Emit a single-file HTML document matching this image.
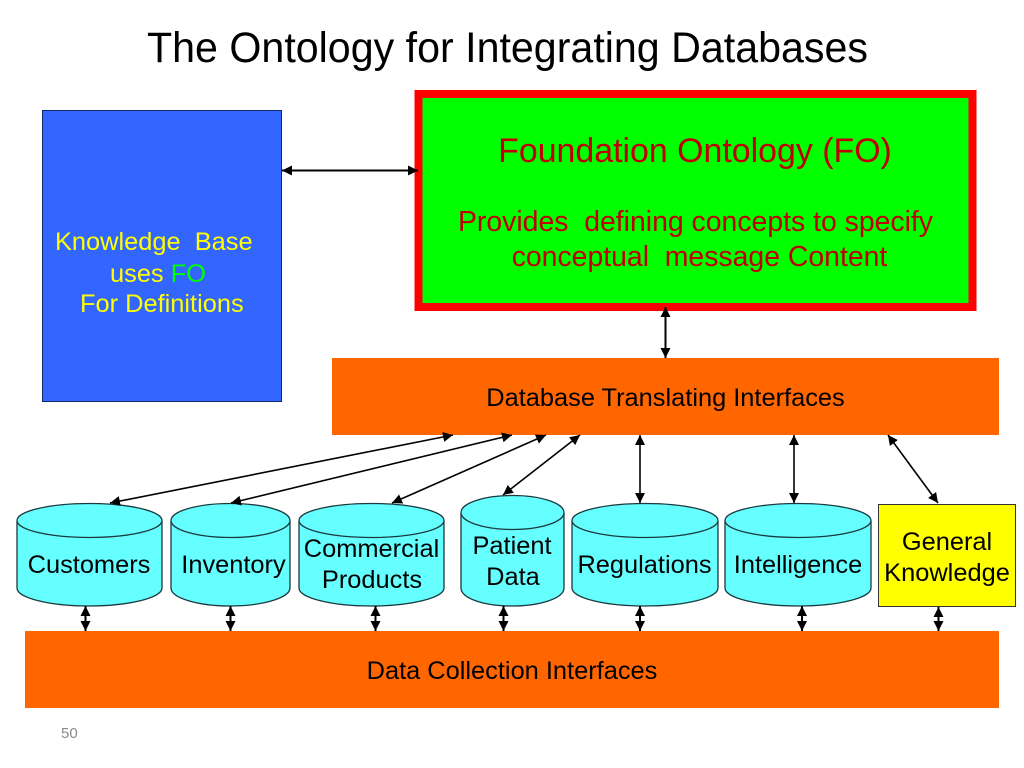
<!DOCTYPE html>
<html><head><meta charset="utf-8"><style>html,body{margin:0;padding:0;background:#fff}svg{display:block}text{font-family:"Liberation Sans",sans-serif;white-space:pre}</style></head><body>
<svg width="1024" height="768" viewBox="0 0 1024 768" xmlns="http://www.w3.org/2000/svg">
<defs>
<marker id="a" viewBox="0 0 10 10" refX="10" refY="5" markerWidth="10" markerHeight="10" markerUnits="userSpaceOnUse" orient="auto-start-reverse"><path d="M0 0L10 5L0 10z" fill="#000"/></marker>
</defs>
<rect width="1024" height="768" fill="#fff"/>
<text x="147" y="62" font-size="43" textLength="721" lengthAdjust="spacingAndGlyphs" fill="#000">The Ontology for Integrating Databases</text>

<rect x="42.500" y="110.500" width="239" height="291" fill="#3366ff" stroke="#0f2a66" stroke-width="1"/>
<text font-size="25.400" fill="#ffff00"><tspan x="55" y="250">Knowledge  Base</tspan><tspan x="110" y="282">uses <tspan fill="#00ff00">FO</tspan></tspan><tspan x="80" y="312">For Definitions</tspan></text>

<rect x="418.500" y="94" width="554" height="213" fill="#00ff00" stroke="#ff0000" stroke-width="8"/>
<text x="695" y="162" font-size="33.900" fill="#c00000" text-anchor="middle">Foundation Ontology (FO)</text>
<text x="695.500" y="231" font-size="28.400" fill="#c00000" text-anchor="middle">Provides  defining concepts to specify</text>
<text x="699.500" y="266" font-size="28.400" fill="#c00000" text-anchor="middle">conceptual  message Content</text>

<rect x="332" y="358" width="667" height="77" fill="#ff6600"/>
<text x="665.500" y="406" font-size="25.400" fill="#000" text-anchor="middle">Database Translating Interfaces</text>
<rect x="25" y="631" width="974" height="77" fill="#ff6600"/>
<text x="512" y="679" font-size="25.400" fill="#000" text-anchor="middle">Data Collection Interfaces</text>

<g fill="#66ffff" stroke="#1a3a40" stroke-width="1.300">
<path d="M17 521V588C17 598 50 606 89 606S162 598 162 588V521"/><ellipse cx="89.500" cy="520.500" rx="72.500" ry="17"/>
<path d="M171 521V588C171 598 198 606 230 606S290 598 290 588V521"/><ellipse cx="230.500" cy="520.500" rx="59.500" ry="17"/>
<path d="M299 521V588C299 598 332 606 371 606S444 598 444 588V521"/><ellipse cx="371.500" cy="520.500" rx="72.500" ry="17"/>
<path d="M461 513V588C461 598 483 606 512 606S564 598 564 588V513"/><ellipse cx="512.500" cy="512.500" rx="51.500" ry="17"/>
<path d="M572 521V588C572 598 605 606 645 606S718 598 718 588V521"/><ellipse cx="645" cy="520.500" rx="73" ry="17"/>
<path d="M725 521V588C725 598 758 606 798 606S871 598 871 588V521"/><ellipse cx="798" cy="520.500" rx="73" ry="17"/>
</g>
<rect x="878.500" y="504.500" width="137" height="102" fill="#ffff00" stroke="#333" stroke-width="1"/>
<g font-size="25.400" fill="#000" text-anchor="middle">
<text x="89" y="573">Customers</text>
<text x="233.500" y="573">Inventory</text>
<text x="371.500" y="557">Commercial</text><text x="372" y="588">Products</text>
<text x="512" y="554">Patient</text><text x="513" y="585">Data</text>
<text x="644.500" y="573">Regulations</text>
<text x="798" y="573">Intelligence</text>
<text x="947" y="550">General</text><text x="947" y="581">Knowledge</text>
</g>
<text x="61" y="738" font-size="15" fill="#8a8a8a">50</text>

<g stroke="#000" fill="none">
<line x1="282" y1="170.500" x2="418" y2="170.500" stroke-width="2" marker-start="url(#a)" marker-end="url(#a)"/>
<line x1="665.500" y1="307" x2="665.500" y2="358" stroke-width="2" marker-start="url(#a)" marker-end="url(#a)"/>
<line x1="453" y1="435" x2="110" y2="503" stroke-width="1.600" marker-start="url(#a)" marker-end="url(#a)"/>
<line x1="512" y1="435" x2="231" y2="503" stroke-width="1.600" marker-start="url(#a)" marker-end="url(#a)"/>
<line x1="546" y1="435" x2="392" y2="503" stroke-width="1.600" marker-start="url(#a)" marker-end="url(#a)"/>
<line x1="580" y1="435" x2="503" y2="495" stroke-width="1.600" marker-start="url(#a)" marker-end="url(#a)"/>
<line x1="640" y1="435" x2="640" y2="503" stroke-width="1.600" marker-start="url(#a)" marker-end="url(#a)"/>
<line x1="794" y1="435" x2="794" y2="503" stroke-width="1.600" marker-start="url(#a)" marker-end="url(#a)"/>
<line x1="888" y1="435" x2="938" y2="503" stroke-width="1.600" marker-start="url(#a)" marker-end="url(#a)"/>
<line x1="85.500" y1="606" x2="85.500" y2="631" stroke-width="2" marker-start="url(#a)" marker-end="url(#a)"/>
<line x1="230.500" y1="606" x2="230.500" y2="631" stroke-width="2" marker-start="url(#a)" marker-end="url(#a)"/>
<line x1="375.500" y1="606" x2="375.500" y2="631" stroke-width="2" marker-start="url(#a)" marker-end="url(#a)"/>
<line x1="503.500" y1="606" x2="503.500" y2="631" stroke-width="2" marker-start="url(#a)" marker-end="url(#a)"/>
<line x1="640" y1="606" x2="640" y2="631" stroke-width="2" marker-start="url(#a)" marker-end="url(#a)"/>
<line x1="802" y1="606" x2="802" y2="631" stroke-width="2" marker-start="url(#a)" marker-end="url(#a)"/>
<line x1="938.500" y1="607" x2="938.500" y2="631" stroke-width="2" marker-start="url(#a)" marker-end="url(#a)"/>
</g>
</svg>
</body></html>
